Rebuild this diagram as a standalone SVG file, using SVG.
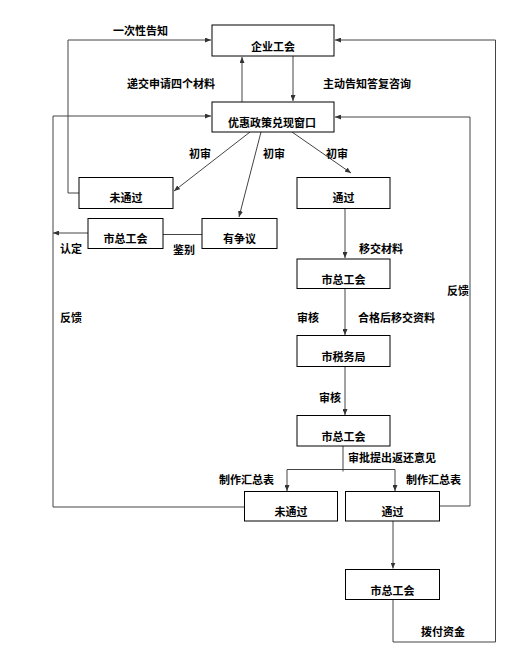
<svg xmlns="http://www.w3.org/2000/svg" width="530" height="656" viewBox="0 0 530 656">
<defs>
<marker id="arr" markerWidth="6" markerHeight="5" refX="6" refY="2.5" orient="auto" markerUnits="userSpaceOnUse">
<path d="M0,0 L6,2.5 L0,5 z" fill="#333"/>
</marker>
<style>
.box{fill:#fff;stroke:#000;stroke-width:1}
.t{font-family:"Noto Sans CJK SC","Microsoft YaHei",sans-serif;font-size:11px;font-weight:700;fill:#000}
.c{text-anchor:middle}
.ln{fill:none;stroke:#444;stroke-width:1}
.ar{marker-end:url(#arr)}
</style>
</defs>
<rect width="530" height="656" fill="#fff"/>
<g id="connectors">
<path class="ln ar" d="M79,193 H68 V40 H211"/>
<path class="ln ar" d="M242,102 V57"/>
<path class="ln ar" d="M293,56 V101"/>
<path class="ln ar" d="M250,132 L174,191"/>
<path class="ln ar" d="M261,132 L239,217"/>
<path class="ln ar" d="M292,132 L351,173"/>
<path class="ln" d="M163,234.5 H202"/>
<path class="ln ar" d="M88,233 H53"/>
<path class="ln ar" d="M345,208 V258"/>
<path class="ln ar" d="M345,288 V335"/>
<path class="ln ar" d="M345,367 V415"/>
<path class="ln" d="M343,446 V471.5"/>
<path class="ln" d="M287,469.5 H395"/>
<path class="ln ar" d="M287,469.5 V491"/>
<path class="ln ar" d="M395,469.5 V491"/>
<path class="ln ar" d="M393,521 V568.5"/>
<path class="ln ar" d="M244,507 H53 V116 H211"/>
<path class="ln ar" d="M439,506 H470 V117 H335"/>
<path class="ln ar" d="M393,599 V642 H495.5 V40 H335"/>
</g>
<g id="n_qiye"><rect class="box" x="212" y="25" width="122" height="31"/><text class="t c" x="273" y="50.5">企业工会</text></g>
<g id="n_youhui"><rect class="box" x="212" y="102" width="122" height="30"/><text class="t c" x="272" y="127">优惠政策兑现窗口</text></g>
<g id="n_weitongguo1"><rect class="box" x="79" y="177.5" width="94" height="31"/><text class="t c" x="126" y="202">未通过</text></g>
<g id="n_tongguo1"><rect class="box" x="297" y="177.5" width="93" height="31"/><text class="t c" x="343.5" y="202">通过</text></g>
<g id="n_shizong1"><rect class="box" x="88" y="218.5" width="75" height="30"/><text class="t c" x="125.5" y="243">市总工会</text></g>
<g id="n_zhengyi"><rect class="box" x="202" y="218.5" width="75" height="30"/><text class="t c" x="239.5" y="243">有争议</text></g>
<g id="n_shizong2"><rect class="box" x="297" y="259" width="93" height="29.5"/><text class="t c" x="343.5" y="284">市总工会</text></g>
<g id="n_shuiwu"><rect class="box" x="297" y="335.5" width="93" height="31"/><text class="t c" x="343.5" y="361">市税务局</text></g>
<g id="n_shizong3"><rect class="box" x="297" y="415.5" width="93" height="30.5"/><text class="t c" x="343.5" y="441">市总工会</text></g>
<g id="n_weitongguo2"><rect class="box" x="244.5" y="491.5" width="93" height="29.5"/><text class="t c" x="291" y="516">未通过</text></g>
<g id="n_tongguo2"><rect class="box" x="345.5" y="491.5" width="94" height="29.5"/><text class="t c" x="392.5" y="516">通过</text></g>
<g id="n_shizong4"><rect class="box" x="345.5" y="569.5" width="94" height="30"/><text class="t c" x="392.5" y="594.5">市总工会</text></g>
<g id="labels">
<text class="t" x="113" y="35">一次性告知</text>
<text class="t" x="127" y="88">递交申请四个材料</text>
<text class="t" x="323" y="88">主动告知答复咨询</text>
<text class="t" x="189" y="158">初审</text>
<text class="t" x="263" y="158">初审</text>
<text class="t" x="326" y="158">初审</text>
<text class="t" x="60" y="253">认定</text>
<text class="t" x="173" y="254">鉴别</text>
<text class="t" x="359" y="253">移交材料</text>
<text class="t" x="60" y="322">反馈</text>
<text class="t" x="447" y="295">反馈</text>
<text class="t" x="297" y="322">审核</text>
<text class="t" x="358" y="322">合格后移交资料</text>
<text class="t" x="319" y="402">审核</text>
<text class="t" x="348" y="462">审批提出返还意见</text>
<text class="t" x="219" y="484">制作汇总表</text>
<text class="t" x="406" y="484">制作汇总表</text>
<text class="t" x="421" y="636">拨付资金</text>
</g>
</svg>
